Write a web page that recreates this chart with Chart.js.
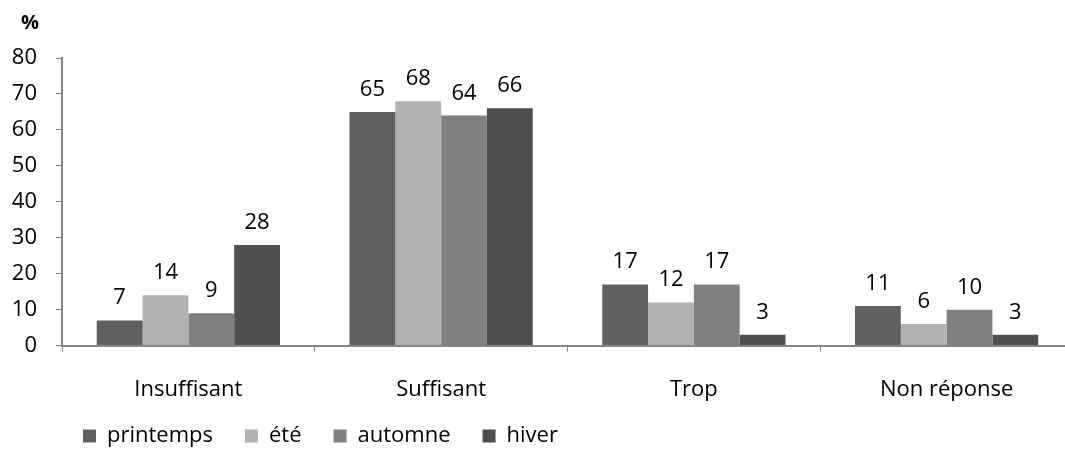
<!DOCTYPE html>
<html>
<head>
<meta charset="utf-8">
<script src="https://cdn.jsdelivr.net/npm/chart.js@4"></script>
<style>
  html, body { margin: 0; padding: 0; background: #fff; overflow: hidden; }
  #wrap { width: 1080px; height: 455px; }
</style>
</head>
<body>
<div id="wrap"><canvas id="chart"></canvas></div>
<script>
const categories = ['Insuffisant', 'Suffisant', 'Trop', 'Non réponse'];
const printemps = [7, 65, 17, 11];
const ete = [14, 68, 12, 6];
const automne = [9, 64, 17, 10];
const hiver = [28, 66, 3, 3];
const yTicks = [0, 10, 20, 30, 40, 50, 60, 70, 80];

const FONT = '"Open Sans", "DejaVu Sans", sans-serif';
const AXIS = '#868686';

// valeurs au-dessus des barres + le "%" en haut de l'axe
const labelsPlugin = {
    id: 'labels',
    afterLayout(chart) {
        // légende décalée comme dans Excel
        const lg = chart.legend;
        lg.left = 51;
        lg.top = 436 - 32 - 11;
        lg.bottom = 455;
        lg.height = lg.bottom - lg.top;
    },
    afterDatasetsDraw(chart) {
        const ctx = chart.ctx;
        ctx.save();
        ctx.fillStyle = '#000';
        ctx.font = '22px ' + FONT;
        ctx.textAlign = 'center';
        ctx.textBaseline = 'alphabetic';
        chart.data.datasets.forEach((ds, i) => {
            chart.getDatasetMeta(i).data.forEach((bar, j) => {
                ctx.fillText(ds.data[j], bar.x, bar.y - 16);
            });
        });
        ctx.font = 'bold 20px ' + FONT;
        ctx.textAlign = 'left';
        ctx.textBaseline = 'middle';
        ctx.fillText('%', 21, 23);
        ctx.restore();
    }
};

new Chart(document.getElementById('chart'), {
    type: 'bar',
    data: {
        labels: categories,
        datasets: [
            { label: 'printemps', data: printemps, backgroundColor: '#606060' },
            { label: 'été', data: ete, backgroundColor: '#b2b2b2' },
            { label: 'automne', data: automne, backgroundColor: '#808080' },
            { label: 'hiver', data: hiver, backgroundColor: '#4f4f4f' }
        ]
    },
    options: {
        responsive: true,
        maintainAspectRatio: false,
        animation: false,
        layout: { padding: { top: 58, right: 7, left: 0, bottom: 12 } },
        datasets: { bar: { categoryPercentage: 0.725, barPercentage: 1 } },
        plugins: {
            tooltip: { enabled: false },
            legend: {
                position: 'bottom',
                align: 'start',
                maxHeight: 15,
                labels: {
                    boxWidth: 13,
                    boxHeight: 13,
                    padding: 32,
                    color: '#000',
                    font: { family: FONT, size: 22 }
                }
            }
        },
        scales: {
            x: {
                grid: { drawOnChartArea: false, tickLength: 6, color: AXIS },
                border: { color: AXIS, width: 2 },
                ticks: { color: '#000', padding: 25, font: { family: FONT, size: 22 } }
            },
            y: {
                min: 0,
                max: 80,
                afterBuildTicks: (scale) => { scale.ticks = yTicks.map(v => ({ value: v })); },
                afterFit: (scale) => { scale.width = 62; },
                grid: { drawOnChartArea: false, tickLength: 6, color: AXIS },
                border: { color: AXIS, width: 2 },
                ticks: { color: '#000', padding: 19, font: { family: FONT, size: 22 } }
            }
        }
    },
    plugins: [labelsPlugin]
});
</script>
</body>
</html>
